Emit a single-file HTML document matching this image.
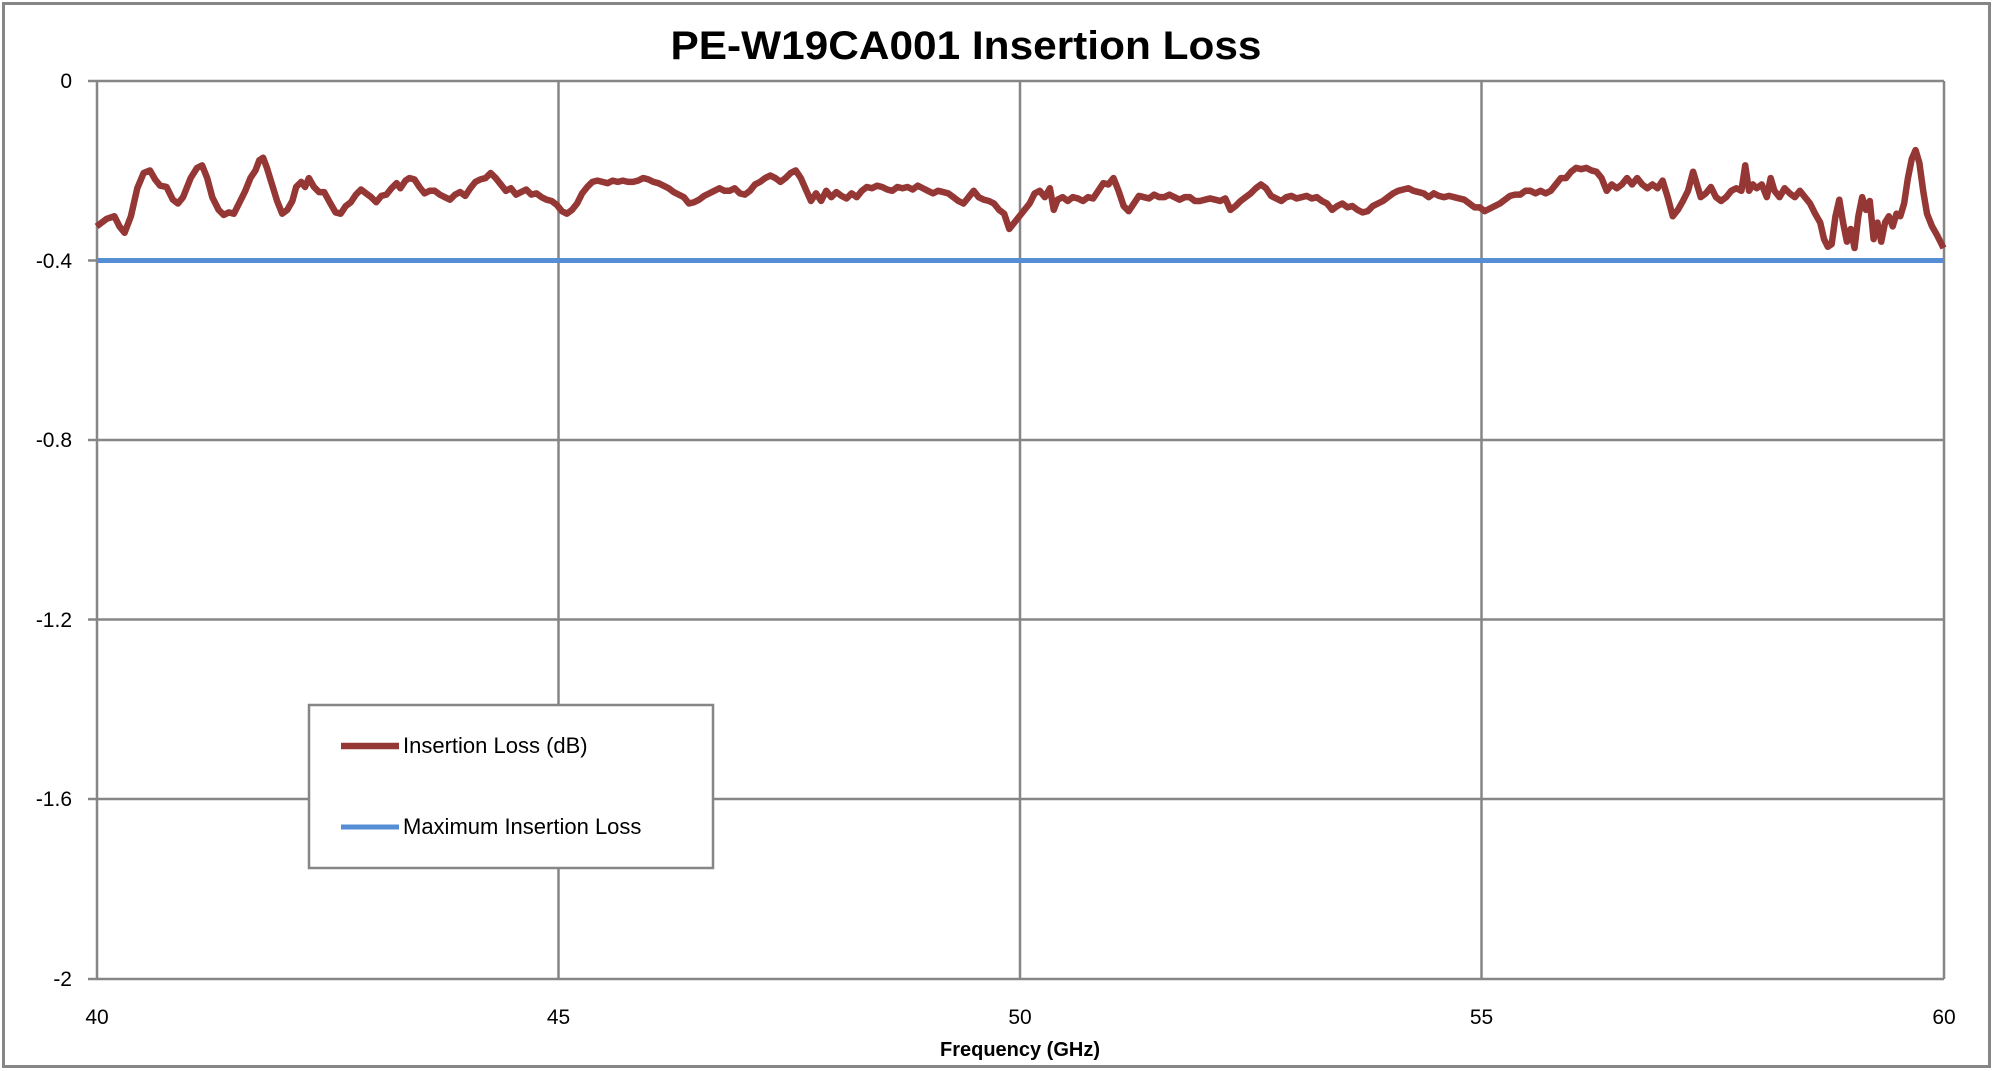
<!DOCTYPE html>
<html><head><meta charset="utf-8"><style>
html,body{margin:0;padding:0;background:#fff;}
svg{display:block;}
text{font-family:"Liberation Sans",sans-serif;}
</style></head><body>
<svg width="1993" height="1071" viewBox="0 0 1993 1071" xmlns="http://www.w3.org/2000/svg">
<rect x="3.5" y="3.5" width="1986" height="1063" fill="#fff" stroke="#868686" stroke-width="3"/>
<text x="966" y="59" font-size="40" font-weight="bold" text-anchor="middle" textLength="591" lengthAdjust="spacingAndGlyphs">PE-W19CA001 Insertion Loss</text>
<g stroke="#868686" stroke-width="2.5" fill="none">
<line x1="97" y1="81" x2="1944" y2="81"/>
<line x1="97" y1="260.5" x2="1944" y2="260.5"/>
<line x1="97" y1="440" x2="1944" y2="440"/>
<line x1="97" y1="619.5" x2="1944" y2="619.5"/>
<line x1="97" y1="799" x2="1944" y2="799"/>
<line x1="88" y1="979" x2="1944" y2="979"/>
<line x1="97" y1="81" x2="97" y2="979"/>
<line x1="558.5" y1="81" x2="558.5" y2="979"/>
<line x1="1020" y1="81" x2="1020" y2="979"/>
<line x1="1481.5" y1="81" x2="1481.5" y2="979"/>
<line x1="1944" y1="81" x2="1944" y2="979"/>
<line x1="88" y1="81" x2="97" y2="81"/><line x1="88" y1="260.5" x2="97" y2="260.5"/><line x1="88" y1="440" x2="97" y2="440"/><line x1="88" y1="619.5" x2="97" y2="619.5"/><line x1="88" y1="799" x2="97" y2="799"/>
</g>
<g font-size="21" text-anchor="end">
<text x="72" y="88">0</text><text x="72" y="268">-0.4</text><text x="72" y="447">-0.8</text><text x="72" y="627">-1.2</text><text x="72" y="806">-1.6</text><text x="72" y="986">-2</text>
</g>
<g font-size="21" text-anchor="middle">
<text x="97" y="1024">40</text><text x="558.5" y="1024">45</text><text x="1020" y="1024">50</text><text x="1481.5" y="1024">55</text><text x="1944" y="1024">60</text>
</g>
<text x="1020" y="1056" font-size="20" font-weight="bold" text-anchor="middle">Frequency (GHz)</text>
<line x1="97" y1="260.5" x2="1944" y2="260.5" stroke="#558ED5" stroke-width="5"/>
<g transform="scale(1.2711,1.272)">
<polyline fill="none" stroke="#953735" stroke-width="6.5" stroke-linejoin="round" vector-effect="non-scaling-stroke" points="76,178 84,172 90,170 94,178 98,183 103,170 108,148 113,136 118,134 122,141 126,146 131,147 136,157 140,160 144,155 150,140 155,132 159,130 163,140 167,155 172,165 176,169 180,167 184,168 188,160 193,150 197,140 201,134 204,126 207,124 210,132 214,145 218,158 222,168 226,165 230,158 233,147 237,143 240,147 243,140 247,147 251,151 255,151 260,160 264,167 268,168 272,162 276,159 280,153 284,149 288,152 292,155 296,159 300,154 304,153 308,148 312,144 315,148 319,142 322,140 326,141 330,147 334,152 338,150 342,150 346,153 350,155 354,157 358,153 362,151 366,154 370,148 374,143 378,141 382,140 386,136 390,140 394,145 398,150 402,148 406,153 410,151 414,149 418,153 422,152 426,155 430,157 434,158 438,161 442,166 446,168 450,165 454,160 458,152 462,147 466,143 470,142 474,143 478,144 482,142 486,143 490,142 494,143 498,143 502,142 506,140 510,141 514,143 518,144 522,146 526,148 530,151 534,153 538,155 542,160 546,159 550,157 554,154 558,152 562,150 566,148 570,150 574,150 578,148 582,152 586,153 590,150 594,145 598,143 602,140 606,138 610,140 614,143 618,140 622,136 626,134 630,140 634,149 638,158 642,152 646,158 650,150 654,155 658,151 662,154 666,156 670,152 674,155 678,150 682,147 686,148 690,146 694,147 698,149 702,150 706,147 710,148 714,147 718,149 722,146 726,148 730,150 734,152 738,150 742,151 746,152 750,155 754,158 758,160 762,155 766,150 770,155 774,157 778,158 782,160 786,165 790,168 794,180 798,175 802,170 806,165 810,160 814,152 818,150 822,155 826,148 829,165 832,157 836,155 840,158 844,155 848,156 852,158 856,155 860,156 864,150 868,144 872,145 876,140 880,150 884,162 888,166 892,160 896,154 900,155 904,156 908,153 912,155 916,155 920,153 924,155 928,157 932,155 936,155 940,158 944,158 948,157 952,156 956,157 960,158 964,156 968,165 972,162 976,158 980,155 984,152 988,148 992,145 996,148 1000,154 1004,156 1008,158 1012,155 1016,154 1020,156 1024,155 1028,154 1032,156 1036,155 1040,158 1044,160 1048,165 1052,162 1056,160 1060,163 1064,162 1068,165 1072,167 1076,166 1080,162 1084,160 1088,158 1092,155 1096,152 1100,150 1104,149 1108,148 1112,150 1116,151 1120,152 1124,155 1128,152 1132,154 1136,155 1140,154 1144,155 1148,156 1152,157 1156,160 1160,163 1164,163 1168,166 1172,164 1176,162 1180,160 1184,157 1188,154 1192,153 1196,153 1200,150 1204,150 1208,152 1212,150 1216,152 1220,150 1224,145 1228,140 1232,140 1236,135 1240,132 1244,133 1248,132 1252,134 1256,135 1260,140 1264,150 1268,145 1272,148 1276,145 1280,140 1284,145 1288,140 1292,145 1296,148 1300,145 1304,148 1308,142 1312,155 1316,170 1320,165 1324,158 1328,150 1332,135 1335,145 1338,155 1342,152 1346,147 1350,155 1354,158 1358,155 1362,150 1366,148 1370,150 1373,130 1376,150 1379,145 1382,148 1386,145 1390,155 1393,140 1396,150 1400,155 1404,148 1408,152 1412,155 1416,150 1420,155 1424,160 1428,168 1432,175 1435,188 1438,194 1441,192 1444,170 1447,157 1450,175 1453,190 1456,180 1459,195 1462,170 1465,155 1468,165 1471,158 1474,188 1477,175 1480,190 1483,175 1486,170 1489,178 1492,168 1495,170 1498,160 1501,140 1504,125 1507,118 1510,128 1513,150 1516,168 1520,178 1524,185 1529,195"/>
</g>
<rect x="309" y="705" width="404" height="163" fill="#fff" stroke="#868686" stroke-width="2.5"/>
<line x1="341" y1="746" x2="399" y2="746" stroke="#953735" stroke-width="6.5"/>
<text x="403" y="753" font-size="22">Insertion Loss (dB)</text>
<line x1="341" y1="827" x2="399" y2="827" stroke="#558ED5" stroke-width="5"/>
<text x="403" y="834" font-size="22">Maximum Insertion Loss</text>
</svg>
</body></html>
